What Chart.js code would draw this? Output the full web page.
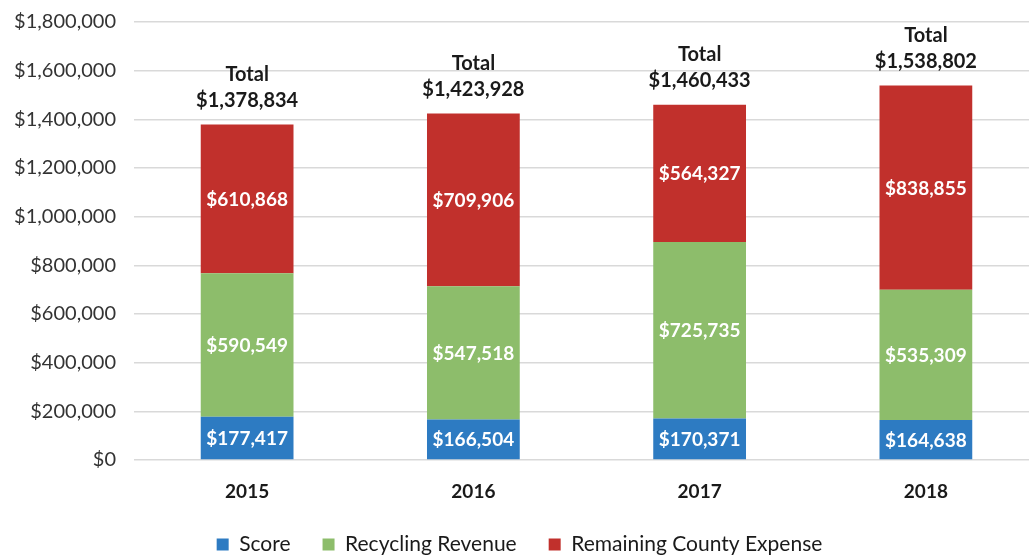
<!DOCTYPE html>
<html><head><meta charset="utf-8">
<script src="https://cdn.jsdelivr.net/npm/chart.js@4.4.1/dist/chart.umd.min.js"></script>
<style>
html,body{margin:0;padding:0;background:#fff;overflow:hidden;}
#wrap{width:1045px;height:560px;position:relative;}
</style></head>
<body><div id="wrap"><canvas id="c"></canvas></div>
<script>
const years = ['2015','2016','2017','2018'];
const score = [177417,166504,170371,164638];
const recycling = [590549,547518,725735,535309];
const remaining = [610868,709906,564327,838855];
const totals = [1378834,1423928,1460433,1538802];
const yTicks = [0,200000,400000,600000,800000,1000000,1200000,1400000,1600000,1800000];

const fmt = v => '$' + v.toLocaleString('en-US');
const FONT = "Lato, 'Open Sans', sans-serif";

const labelPlugin = {
  id:'labels',
  afterDatasetsDraw(chart){
    const ctx = chart.ctx;
    ctx.save();
    ctx.textAlign='center';
    ctx.textBaseline='middle';
    chart.data.datasets.forEach((ds,di)=>{
      const meta = chart.getDatasetMeta(di);
      meta.data.forEach((bar,i)=>{
        ctx.font = "bold 19px " + FONT;
        ctx.fillStyle = '#ffffff';
        ctx.fillText(fmt(ds.data[i]), bar.x, (bar.y + bar.base)/2 + 1);
      });
    });
    const top = chart.getDatasetMeta(2);
    top.data.forEach((bar,i)=>{
      ctx.font = "bold 20px " + FONT;
      ctx.fillStyle = '#1a1a1a';
      ctx.fillText('Total', bar.x, bar.y - 50);
      ctx.fillText(fmt(totals[i]), bar.x, bar.y - 24);
    });
    ctx.restore();
  }
};

new Chart(document.getElementById('c'), {
  type:'bar',
  data:{
    labels: years,
    datasets:[
      {label:'Score', data:score, backgroundColor:'#2d7bc2'},
      {label:'Recycling Revenue', data:recycling, backgroundColor:'#8dbd6b'},
      {label:'Remaining County Expense', data:remaining, backgroundColor:'#c1302c'}
    ]
  },
  options:{
    responsive:true, maintainAspectRatio:false, animation:false,
    layout:{padding:{top:22,right:6,left:0,bottom:-5}},
    datasets:{bar:{barPercentage:0.41, categoryPercentage:1}},
    scales:{
      x:{stacked:true, grid:{display:false, drawTicks:false}, border:{display:false},
         afterFit(ax){ ax.height = 42; },
         ticks:{font:{family:FONT,size:19,weight:'bold'}, color:'#1a1a1a', padding:20}},
      y:{stacked:true, min:0, max:1800000,
         afterBuildTicks(ax){ ax.ticks = yTicks.map(v=>({value:v})); },
         afterFit(ax){ ax.width = 134; ax.paddingTop = 0; ax.paddingBottom = 0; },
         grid:{color:'#d9d9d9', lineWidth:1.5, drawTicks:false}, border:{display:false},
         ticks:{font:{family:FONT,size:20}, color:'#333333', padding:18, callback:v=>fmt(v)}}
    },
    plugins:{
      legend:{position:'bottom', labels:{font:{family:FONT,size:21}, color:'#1a1a1a', boxWidth:12, boxHeight:12, padding:32}},
      tooltip:{enabled:false}
    }
  },
  plugins:[labelPlugin]
});
</script></body></html>
